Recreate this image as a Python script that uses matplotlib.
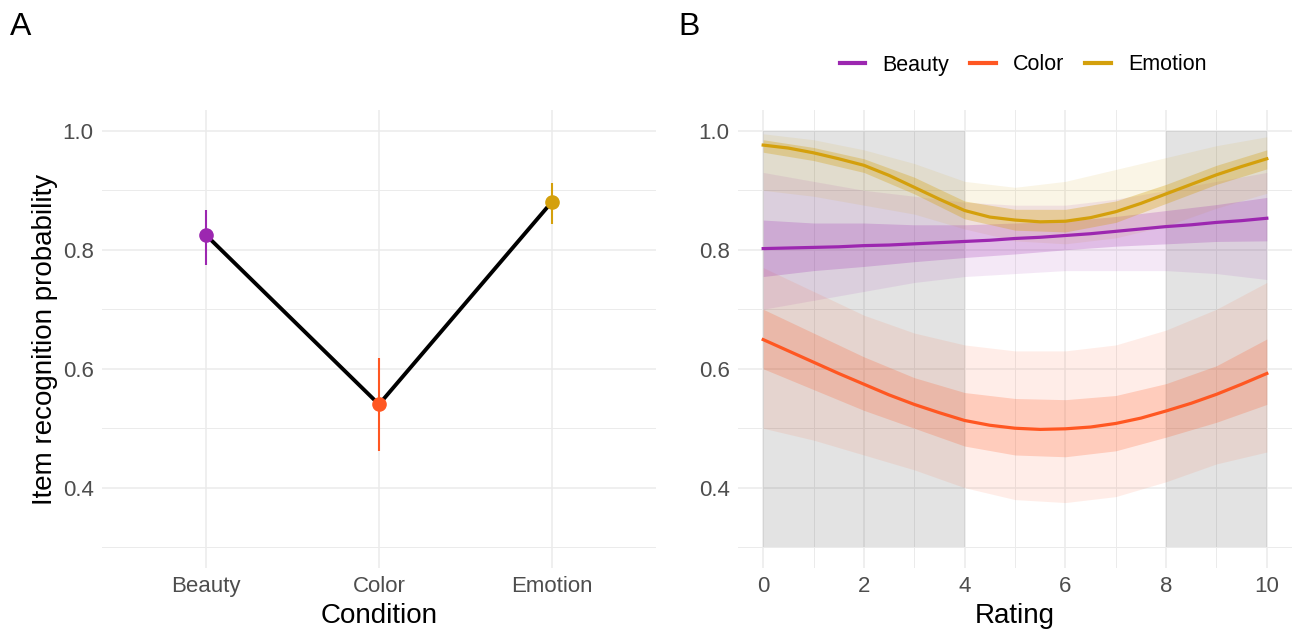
import matplotlib
matplotlib.use("Agg")
import matplotlib.pyplot as plt
from matplotlib.lines import Line2D
import numpy as np

plt.rcParams['font.family'] = ['Liberation Sans', 'DejaVu Sans']

# ---------------- Data ----------------
conditions = ["Beauty", "Color", "Emotion"]
cond_colors = ["#9C27B0", "#FF5722", "#D4A00C"]
cond_mean = [0.825, 0.540, 0.881]
cond_lo = [0.774, 0.461, 0.844]
cond_hi = [0.867, 0.618, 0.912]

# posterior mean curves (read every half rating step)
rating_fine = [0, 0.5, 1, 1.5, 2, 2.5, 3, 3.5, 4, 4.5, 5, 5.5, 6, 6.5, 7, 7.5, 8, 8.5, 9, 9.5, 10]
beauty_mean = [0.802, 0.803, 0.804, 0.805, 0.807, 0.808, 0.810, 0.812, 0.814, 0.816, 0.819,
               0.821, 0.824, 0.827, 0.831, 0.835, 0.839, 0.842, 0.846, 0.849, 0.853]
color_mean = [0.649, 0.630, 0.611, 0.592, 0.574, 0.556, 0.540, 0.526, 0.513, 0.505, 0.500,
              0.498, 0.499, 0.502, 0.508, 0.517, 0.529, 0.542, 0.557, 0.574, 0.592]
emotion_mean = [0.976, 0.971, 0.963, 0.953, 0.942, 0.925, 0.905, 0.885, 0.866, 0.855, 0.850,
                0.847, 0.848, 0.854, 0.864, 0.878, 0.894, 0.910, 0.926, 0.940, 0.953]

# spread of the posterior draws (read at integer ratings)
rating = [0, 1, 2, 3, 4, 5, 6, 7, 8, 9, 10]
beauty_hi95 = [0.930, 0.915, 0.900, 0.890, 0.880, 0.875, 0.875, 0.885, 0.900, 0.915, 0.930]
beauty_lo95 = [0.700, 0.715, 0.730, 0.745, 0.755, 0.760, 0.765, 0.765, 0.765, 0.760, 0.750]
beauty_hi50 = [0.850, 0.845, 0.845, 0.842, 0.842, 0.845, 0.848, 0.856, 0.866, 0.876, 0.888]
beauty_lo50 = [0.755, 0.765, 0.772, 0.780, 0.787, 0.793, 0.800, 0.806, 0.810, 0.814, 0.815]

color_hi95 = [0.770, 0.730, 0.690, 0.660, 0.640, 0.630, 0.630, 0.640, 0.665, 0.700, 0.745]
color_lo95 = [0.500, 0.480, 0.455, 0.430, 0.400, 0.380, 0.375, 0.385, 0.410, 0.440, 0.460]
color_hi50 = [0.700, 0.660, 0.620, 0.585, 0.560, 0.550, 0.548, 0.555, 0.575, 0.605, 0.650]
color_lo50 = [0.600, 0.565, 0.530, 0.500, 0.470, 0.455, 0.452, 0.462, 0.485, 0.510, 0.540]

emotion_hi95 = [0.995, 0.985, 0.968, 0.945, 0.915, 0.905, 0.915, 0.935, 0.955, 0.975, 0.990]
emotion_lo95 = [0.900, 0.890, 0.875, 0.860, 0.835, 0.815, 0.810, 0.820, 0.840, 0.870, 0.895]
emotion_hi50 = [0.985, 0.972, 0.953, 0.922, 0.882, 0.868, 0.868, 0.882, 0.910, 0.942, 0.968]
emotion_lo50 = [0.964, 0.950, 0.930, 0.894, 0.852, 0.833, 0.830, 0.846, 0.878, 0.910, 0.936]

shade_ranges = [(0, 4), (8, 10)]
shade_ymin, shade_ymax = 0.3, 1.0

y_major = [0.4, 0.6, 0.8, 1.0]
y_minor = [0.3, 0.5, 0.7, 0.9]
x_major = [0, 2, 4, 6, 8, 10]
x_minor = [1, 3, 5, 7, 9]

# ---------------- Figure ----------------
W, H = 1304, 631
fig = plt.figure(figsize=(W / 100, H / 100), dpi=100)

def px_axes(left, top, right, bottom):
    return fig.add_axes([left / W, 1 - bottom / H, (right - left) / W, (bottom - top) / H])

axA = px_axes(102, 110, 656, 568)
axB = px_axes(738, 110, 1292, 568)

tick_col = "#4D4D4D"
grid_col = "#EBEBEB"
tick_fs = 16
title_fs = 20

def style(ax):
    for s in ax.spines.values():
        s.set_visible(False)
    ax.set_axisbelow(True)
    ax.tick_params(axis='both', which='both', length=0, labelsize=tick_fs, labelcolor=tick_col)
    ax.tick_params(axis='y', pad=6)
    ax.tick_params(axis='x', pad=6)
    ax.grid(True, which='major', color=grid_col, lw=1.1)
    ax.grid(True, which='minor', color=grid_col, lw=0.7)
    ax.set_ylim(0.265, 1.035)
    ax.set_yticks(y_major)
    ax.set_yticks(y_minor, minor=True)
    ax.set_yticklabels([f"{v:.1f}" for v in y_major])

# ---- Panel A ----
style(axA)
xpos = np.arange(len(conditions))
axA.set_xlim(-0.6, len(conditions) - 1 + 0.6)
axA.set_xticks(xpos)
axA.set_xticklabels(conditions)
axA.plot(xpos, cond_mean, color='black', lw=2.8, zorder=3, solid_capstyle='butt')
for i in range(len(conditions)):
    axA.vlines(xpos[i], cond_lo[i], cond_hi[i], color=cond_colors[i], lw=1.5, zorder=2)
    axA.plot(xpos[i], cond_mean[i], 'o', ms=9.5, color=cond_colors[i], zorder=4)
axA.set_ylabel("Item recognition probability", fontsize=title_fs, va='center')
axA.yaxis.set_label_coords(-0.103, 0.5)
axA.set_xlabel("Condition", fontsize=title_fs, va='baseline')
axA.xaxis.set_label_coords(0.5, -0.120)

# ---- Panel B ----
style(axB)
axB.set_xlim(-0.5, 10.5)
axB.set_xticks(x_major)
axB.set_xticks(x_minor, minor=True)
for a, b in shade_ranges:
    axB.fill_between([a, b], shade_ymin, shade_ymax, color='black', alpha=0.11, lw=0, zorder=0.8)

series = [
    ("Beauty", cond_colors[0], beauty_mean, beauty_lo95, beauty_hi95, beauty_lo50, beauty_hi50, 0.22),
    ("Color", cond_colors[1], color_mean, color_lo95, color_hi95, color_lo50, color_hi50, 0.22),
    ("Emotion", cond_colors[2], emotion_mean, emotion_lo95, emotion_hi95, emotion_lo50, emotion_hi50, 0.32),
]
for name, col, m, lo95, hi95, lo50, hi50, a_in in series:
    axB.fill_between(rating, lo95, hi95, color=col, alpha=0.10, lw=0, zorder=1.5)
    axB.fill_between(rating, lo50, hi50, color=col, alpha=a_in, lw=0, zorder=1.6)
for name, col, m, lo95, hi95, lo50, hi50, a_in in series:
    axB.plot(rating_fine, m, color=col, lw=2.3, zorder=3)
axB.set_xlabel("Rating", fontsize=title_fs, va='baseline')
axB.xaxis.set_label_coords(0.5, -0.120)

# legend
handles = [Line2D([0], [0], color=c, lw=3) for c in cond_colors]
fig.legend(handles, conditions, loc='center', bbox_to_anchor=(1023 / W, 1 - 65 / H),
           ncol=3, frameon=False, fontsize=15.5, handlelength=1.2, handletextpad=0.8,
           columnspacing=0.95)

# panel tags
fig.text(10 / W, 1 - 35 / H, "A", fontsize=23, va='baseline', ha='left')
fig.text(678 / W, 1 - 35 / H, "B", fontsize=23, va='baseline', ha='left')

fig.savefig("out.png", dpi=100, facecolor='white')
